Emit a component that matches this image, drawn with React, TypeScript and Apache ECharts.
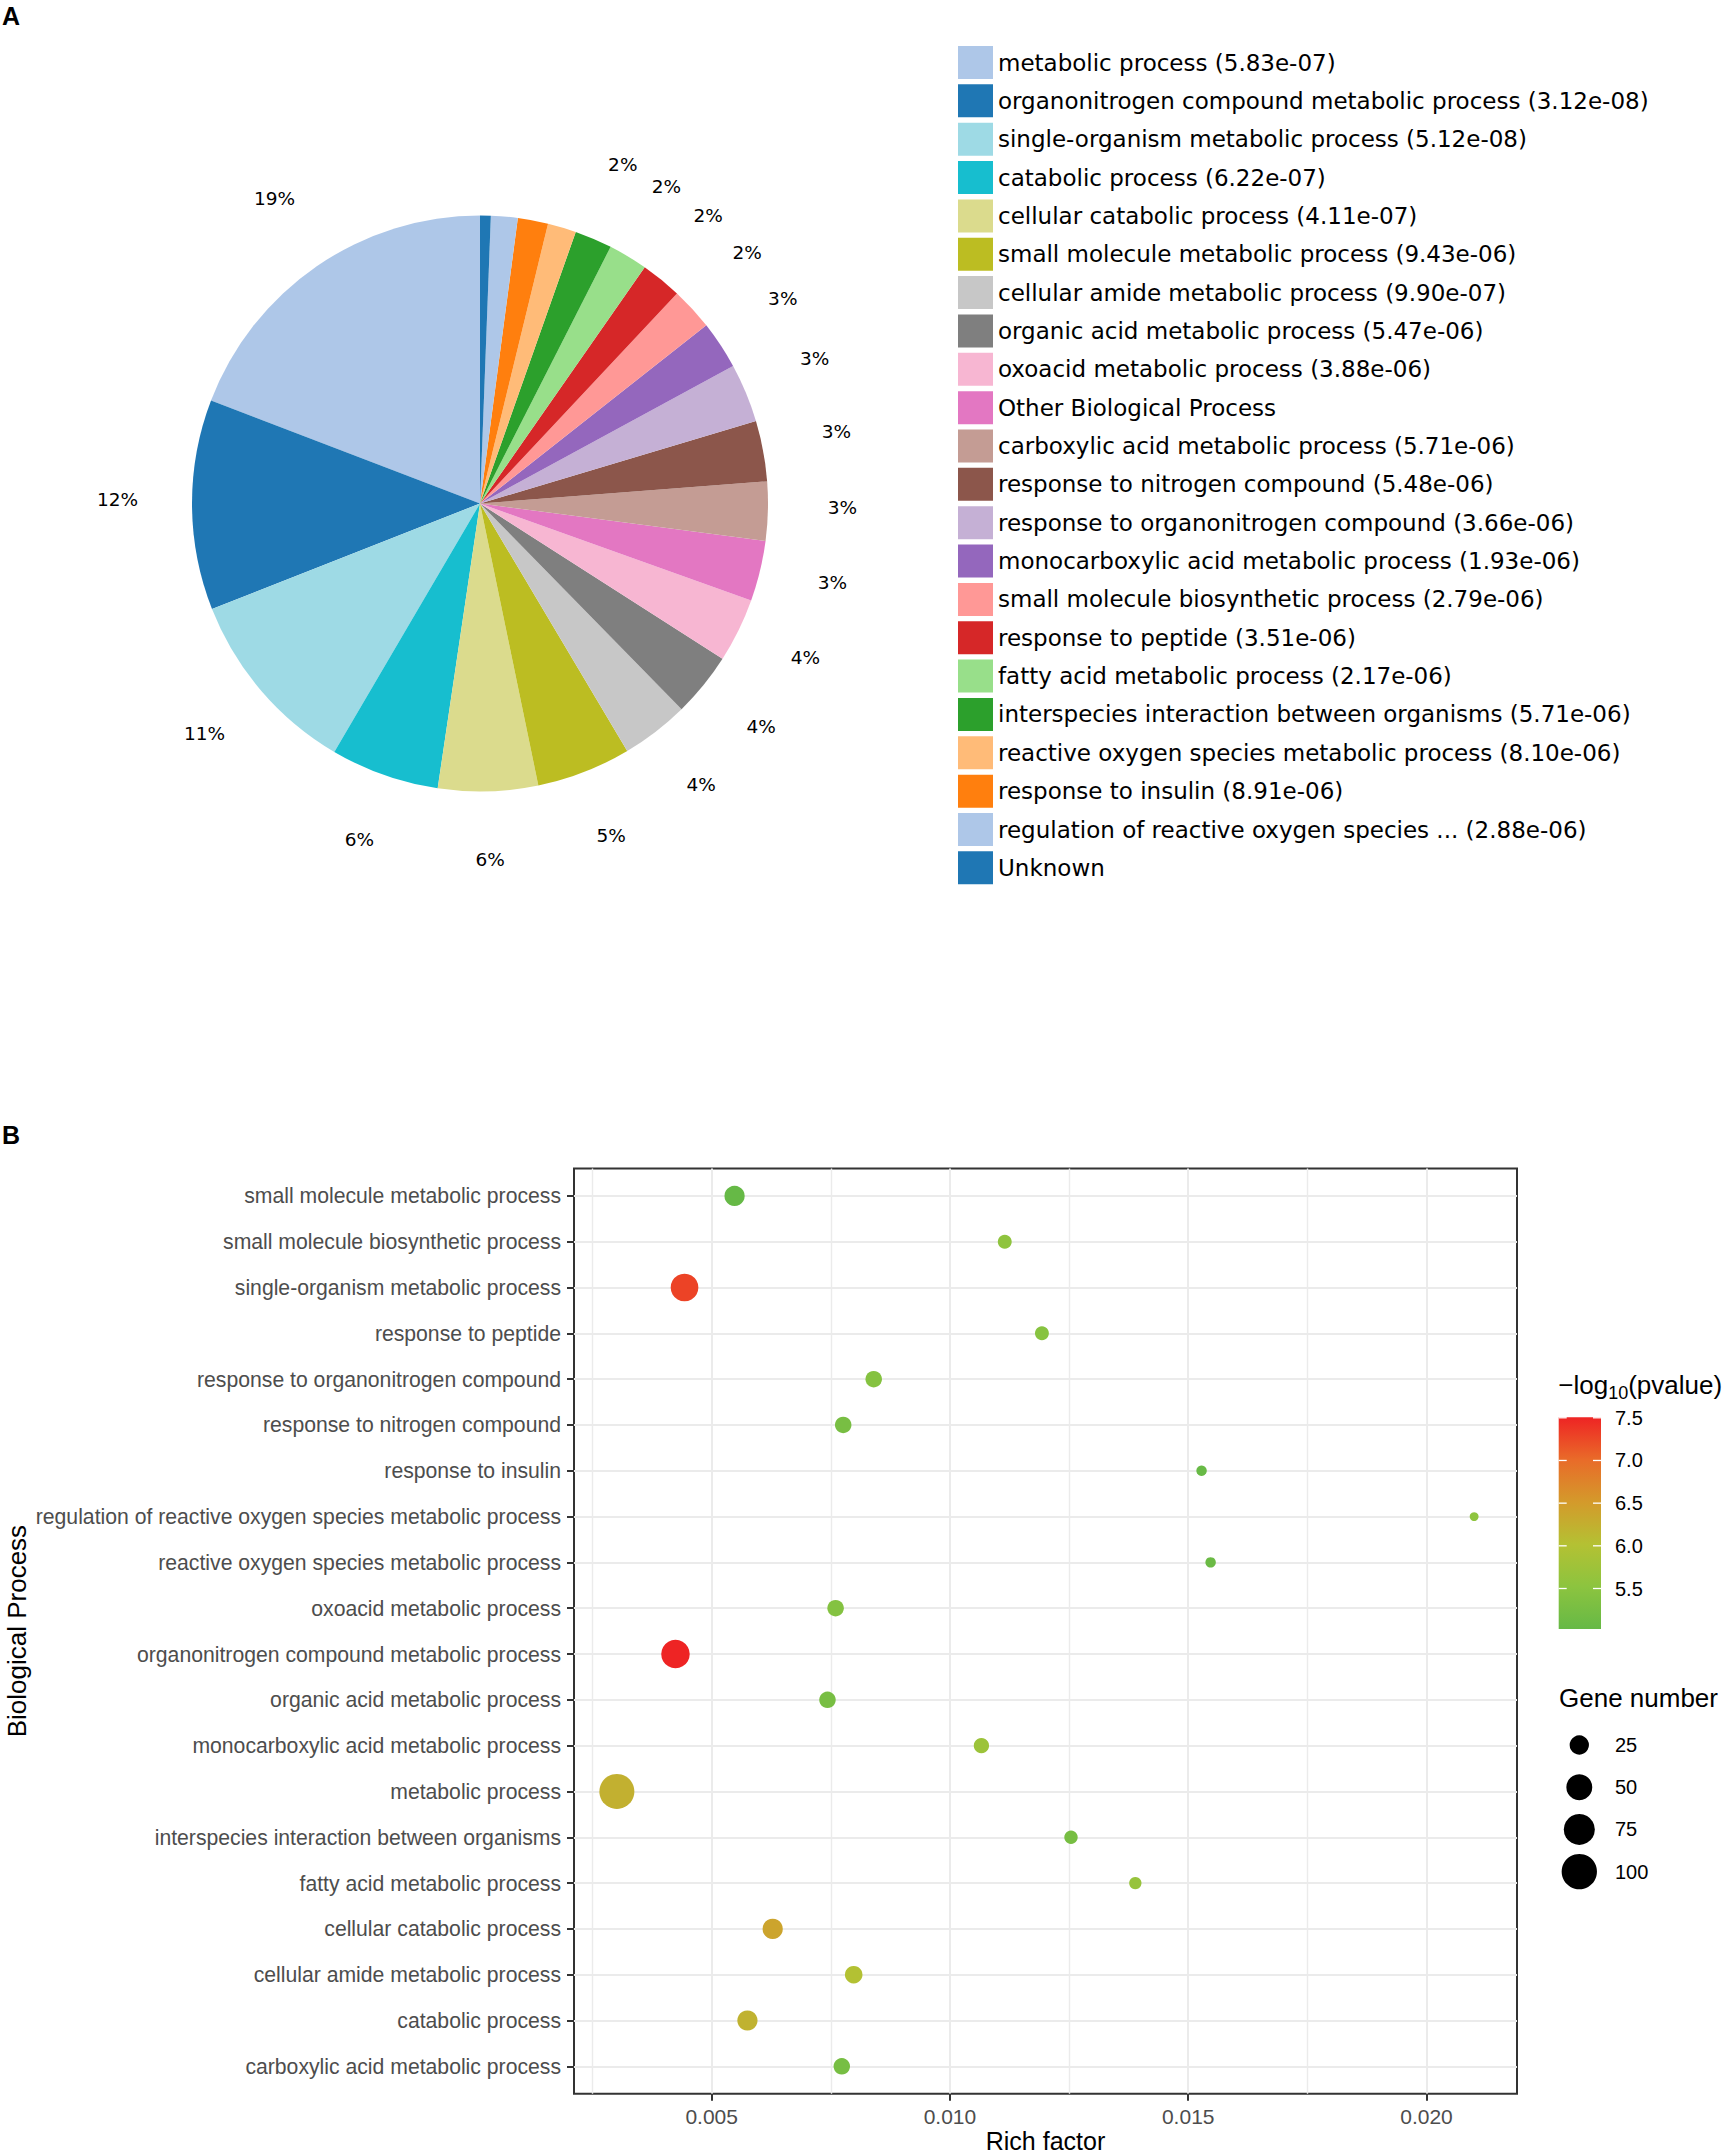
import React, { useEffect, useRef } from 'react';
import * as echarts from 'echarts';

// ---------------- Panel A : pie ----------------
const pieTerms = [
  'metabolic process',
  'organonitrogen compound metabolic process',
  'single-organism metabolic process',
  'catabolic process',
  'cellular catabolic process',
  'small molecule metabolic process',
  'cellular amide metabolic process',
  'organic acid metabolic process',
  'oxoacid metabolic process',
  'Other Biological Process',
  'carboxylic acid metabolic process',
  'response to nitrogen compound',
  'response to organonitrogen compound',
  'monocarboxylic acid metabolic process',
  'small molecule biosynthetic process',
  'response to peptide',
  'fatty acid metabolic process',
  'interspecies interaction between organisms',
  'reactive oxygen species metabolic process',
  'response to insulin',
  'regulation of reactive oxygen species ...',
  'Unknown',
];
const piePvalues = [
  '5.83e-07', '3.12e-08', '5.12e-08', '6.22e-07', '4.11e-07', '9.43e-06', '9.90e-07',
  '5.47e-06', '3.88e-06', '', '5.71e-06', '5.48e-06', '3.66e-06', '1.93e-06', '2.79e-06',
  '3.51e-06', '2.17e-06', '5.71e-06', '8.10e-06', '8.91e-06', '2.88e-06', '',
];
const piePercents = [
  19.2, 11.8, 10.6, 6.1, 5.6, 5.3, 3.8, 3.6, 3.6, 3.4, 3.3, 3.4, 3.3, 2.7, 2.4, 2.3, 2.2, 2.1,
  1.6, 1.7, 1.5, 0.6,
];
const pieColors = [
  '#aec7e8', '#1f77b4', '#9edae5', '#17becf', '#dbdb8d', '#bcbd22', '#c7c7c7', '#7f7f7f',
  '#f7b6d2', '#e377c2', '#c49c94', '#8c564b', '#c5b0d5', '#9467bd', '#ff9896', '#d62728',
  '#98df8a', '#2ca02c', '#ffbb78', '#ff7f0e', '#aec7e8', '#1f77b4',
];

// ---------------- Panel B : bubble ----------------
const bpTerms = [
  'small molecule metabolic process',
  'small molecule biosynthetic process',
  'single-organism metabolic process',
  'response to peptide',
  'response to organonitrogen compound',
  'response to nitrogen compound',
  'response to insulin',
  'regulation of reactive oxygen species metabolic process',
  'reactive oxygen species metabolic process',
  'oxoacid metabolic process',
  'organonitrogen compound metabolic process',
  'organic acid metabolic process',
  'monocarboxylic acid metabolic process',
  'metabolic process',
  'interspecies interaction between organisms',
  'fatty acid metabolic process',
  'cellular catabolic process',
  'cellular amide metabolic process',
  'catabolic process',
  'carboxylic acid metabolic process',
];
const bpRichFactor = [
  0.00548, 0.01115, 0.00443, 0.01193, 0.0084, 0.00776, 0.01528, 0.021, 0.01547, 0.0076,
  0.00424, 0.00743, 0.01066, 0.00301, 0.01254, 0.01389, 0.00628, 0.00798, 0.00575, 0.00773,
];
const bpGeneNumber = [28, 11, 58, 11, 17, 17, 5, 3, 5, 17, 62, 17, 14, 98, 10, 8, 28, 20, 28, 17];
const bpPvalue = [
  9.43e-6, 2.79e-6, 5.12e-8, 3.51e-6, 3.66e-6, 5.48e-6, 8.91e-6, 2.88e-6, 8.1e-6, 3.88e-6,
  3.12e-8, 5.47e-6, 1.93e-6, 5.83e-7, 5.71e-6, 2.17e-6, 4.11e-7, 9.9e-7, 6.22e-7, 5.71e-6,
];

const xTicks = [0.005, 0.01, 0.015, 0.02];
const xMinorTicks = [0.0025, 0.0075, 0.0125, 0.0175];
const colorbarTicks = [5.5, 6.0, 6.5, 7.0, 7.5];
const sizeLegendValues = [25, 50, 75, 100];
const colorStops = ['#66b946', '#8cc43f', '#b4c133', '#d49a2b', '#e96b29', '#ee2424'];

const FONT_B = '"Liberation Sans", Arial, Helvetica, sans-serif';
const FONT_A = '"DejaVu Sans", sans-serif';

const bubbleDiameter = (n: number) => 3.3 + 3.2 * Math.sqrt(n);

export default function App() {
  const ref = useRef<HTMLDivElement>(null);

  useEffect(() => {
    if (!ref.current) return;
    const chart = echarts.init(ref.current, undefined, { renderer: 'svg' });

    // x extent like ggplot (5% expansion)
    const xmin0 = Math.min(...bpRichFactor);
    const xmax0 = Math.max(...bpRichFactor);
    const xr = xmax0 - xmin0;
    const xMin = xmin0 - 0.05 * xr;
    const xMax = xmax0 + 0.05 * xr;

    const negLog = bpPvalue.map((p) => -Math.log10(p));
    const vmin = Math.min(...negLog);
    const vmax = Math.max(...negLog);

    const legendNames = pieTerms.map((t, i) => (piePvalues[i] ? `${t} (${piePvalues[i]})` : t));
    const idx = bpTerms.map((_, i) => i);

    const gridTop = 1168.4;
    const gridHeight = 925.4;

    // colour bar geometry
    const cbX = 1558.7;
    const cbW = 42.3;
    const cbTop = 1417.3;
    const cbBottom = 1629;
    const cbY = (v: number) => cbBottom - ((v - vmin) / (vmax - vmin)) * (cbBottom - cbTop);

    const txt = (text: string, x: number, y: number, fontSize: number, extra: any = {}, props: any = {}) => ({
      type: 'text', x, y, ...props,
      style: {
        text, fill: '#000', fontSize, fontFamily: FONT_B,
        textAlign: 'left', textVerticalAlign: 'middle', align: 'left', verticalAlign: 'middle',
        ...extra,
      },
    });

    const graphics: any[] = [];
    graphics.push(txt('A', 2, 16, 25, { fontWeight: 'bold' }));
    graphics.push(txt('B', 2, 1135, 25, { fontWeight: 'bold' }));

    // y-axis title (rotated)
    graphics.push(
      txt('Biological Process', 17, gridTop + gridHeight / 2, 26,
        { textAlign: 'center', align: 'center' },
        { rotation: Math.PI / 2 })
    );

    // colour bar
    graphics.push({
      type: 'rect',
      shape: { x: cbX, y: cbTop, width: cbW, height: cbBottom - cbTop },
      style: {
        fill: new echarts.graphic.LinearGradient(
          0, 1, 0, 0,
          colorStops.map((c, i) => ({ offset: i / (colorStops.length - 1), color: c }))
        ),
      },
    });
    colorbarTicks.forEach((v) => {
      const y = cbY(v);
      graphics.push({ type: 'line', shape: { x1: cbX, y1: y, x2: cbX + 8, y2: y }, style: { stroke: '#fff', lineWidth: 1.3 } });
      graphics.push({ type: 'line', shape: { x1: cbX + cbW - 8, y1: y, x2: cbX + cbW, y2: y }, style: { stroke: '#fff', lineWidth: 1.3 } });
      graphics.push(txt(v.toFixed(1), 1615, y, 20));
    });

    // colour bar title: −log10(pvalue)
    const cv = document.createElement('canvas').getContext('2d') as CanvasRenderingContext2D;
    cv.font = '26px "Liberation Sans"';
    const w1 = cv.measureText('\u2212log').width;
    cv.font = '18px "Liberation Sans"';
    const w2 = cv.measureText('10').width;
    const tx = 1558.3;
    graphics.push(txt('\u2212log', tx, 1385, 26));
    graphics.push(txt('10', tx + w1, 1393, 18));
    graphics.push(txt('(pvalue)', tx + w1 + w2, 1385, 26));

    // size legend
    graphics.push(txt('Gene number', 1559, 1698, 26));
    sizeLegendValues.forEach((v, i) => {
      const y = 1745 + i * 42.2;
      graphics.push({ type: 'circle', shape: { cx: 1579.3, cy: y, r: bubbleDiameter(v) / 2 }, style: { fill: '#000' } });
      graphics.push(txt(String(v), 1615, y, 20));
    });

    const option: any = {
      animation: false,
      backgroundColor: '#fff',
      textStyle: { fontFamily: FONT_B },
      legend: {
        orient: 'vertical',
        left: 958,
        top: 46,
        padding: 0,
        itemWidth: 35,
        itemHeight: 33,
        itemGap: 5.35,
        icon: 'rect',
        selectedMode: false,
        data: legendNames,
        itemStyle: { borderWidth: 0 },
        textStyle: { fontSize: 23, fontFamily: FONT_A, color: '#000' },
      },
      grid: {
        left: 574,
        top: gridTop,
        width: 943,
        height: gridHeight,
        show: true,
        borderColor: '#333',
        borderWidth: 2,
        backgroundColor: 'transparent',
        containLabel: false,
        outerBoundsMode: 'none',
      },
      xAxis: [
        {
          type: 'value',
          gridIndex: 0,
          min: xMin,
          max: xMax,
          position: 'bottom',
          axisLine: { show: false, onZero: false },
          axisTick: { show: true, length: 7, lineStyle: { color: '#333', width: 2 }, customValues: xTicks },
          axisLabel: {
            customValues: xTicks,
            formatter: (v: number) => v.toFixed(3),
            fontSize: 21,
            fontFamily: FONT_B,
            color: '#4d4d4d',
            margin: 12,
          },
          splitLine: { show: true, lineStyle: { color: '#ebebeb', width: 2 } },
          name: 'Rich factor',
          nameLocation: 'middle',
          nameGap: 35,
          nameTextStyle: { fontSize: 25, fontFamily: FONT_B, color: '#000' },
        },
        {
          type: 'value',
          gridIndex: 0,
          min: xMin,
          max: xMax,
          position: 'bottom',
          axisLine: { show: false, onZero: false },
          axisTick: { show: false, customValues: xMinorTicks },
          axisLabel: { show: false, customValues: xMinorTicks },
          splitLine: { show: true, lineStyle: { color: '#ebebeb', width: 1.4 } },
        },
      ],
      yAxis: {
        type: 'value',
        gridIndex: 0,
        min: -0.6,
        max: bpTerms.length - 1 + 0.6,
        inverse: true,
        axisLine: { show: false, onZero: false },
        axisTick: { show: true, length: 7, lineStyle: { color: '#333', width: 2 }, customValues: idx },
        axisLabel: {
          customValues: idx,
          formatter: (v: number) => bpTerms[Math.round(v)] || '',
          fontSize: 21.2,
          fontFamily: FONT_B,
          color: '#4d4d4d',
          margin: 13,
        },
        splitLine: { show: true, lineStyle: { color: '#ebebeb', width: 2 } },
      },
      visualMap: {
        type: 'continuous',
        show: false,
        seriesIndex: 2,
        dimension: 3,
        min: vmin,
        max: vmax,
        inRange: { color: colorStops },
      },
      series: [
        {
          type: 'pie',
          center: [480, 503.5],
          radius: 288,
          startAngle: 90,
          clockwise: false,
          silent: true,
          avoidLabelOverlap: false,
          itemStyle: { borderWidth: 0 },
          label: { show: false },
          labelLine: { show: false },
          emphasis: { disabled: true },
          data: piePercents.map((v, i) => ({ name: legendNames[i], value: v, itemStyle: { color: pieColors[i] } })),
        },
        {
          type: 'pie',
          center: [480, 497.5],
          radius: [330, 389],
          startAngle: 90,
          clockwise: false,
          silent: true,
          avoidLabelOverlap: false,
          itemStyle: { borderWidth: 0, color: 'rgba(0,0,0,0)' },
          label: {
            show: true,
            position: 'inside',
            rotate: 0,
            color: '#000',
            fontSize: 18.5,
            fontFamily: FONT_A,
            formatter: (p: any) => (p.percent >= 2 ? `${Math.round(p.percent)}%` : ''),
          },
          labelLine: { show: false },
          emphasis: { disabled: true },
          data: piePercents.map((v, i) => ({ name: `lbl${i}`, value: v, itemStyle: { color: 'rgba(0,0,0,0)' } })),
        },
        {
          type: 'scatter',
          xAxisIndex: 0,
          yAxisIndex: 0,
          silent: true,
          symbol: 'circle',
          symbolSize: (v: number[]) => bubbleDiameter(v[2]),
          itemStyle: { opacity: 1 },
          emphasis: { disabled: true },
          data: bpTerms.map((_, i) => [bpRichFactor[i], i, bpGeneNumber[i], negLog[i]]),
        },
      ],
      graphic: graphics,
    };

    chart.setOption(option);
    return () => chart.dispose();
  }, []);

  return (
    <div
      ref={ref}
      style={{ position: 'absolute', left: 0, top: 0, width: 1733, height: 2155, background: '#fff' }}
    />
  );
}
